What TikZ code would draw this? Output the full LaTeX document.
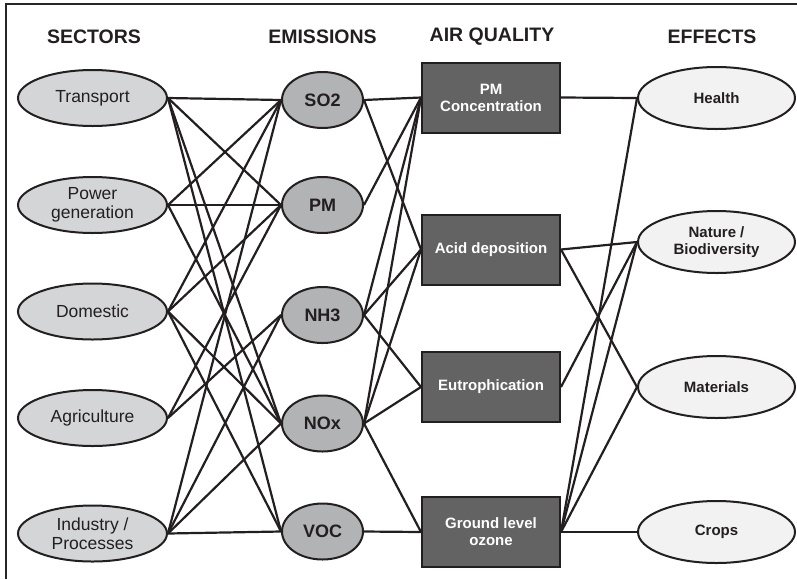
\documentclass[tikz,border=0pt]{standalone}
\usepackage{fontspec}
\setmainfont{Liberation Sans}
\usepackage{xcolor}
\usepackage{tikz}
\usetikzlibrary{shapes.geometric, calc}

\definecolor{sectorfill}{RGB}{212,213,215}
\definecolor{emisfill}{RGB}{178,179,181}
\definecolor{airfill}{RGB}{99,99,100}
\definecolor{effectfill}{RGB}{241,242,241}
\definecolor{outline}{RGB}{35,31,32}

\begin{document}
\begin{tikzpicture}[
  x=1pt, y=-1pt,
  header/.style={font=\fontsize{19.5}{22}\selectfont\bfseries, text=outline},
  sector/.style={ellipse, draw=outline, line width=2pt, fill=sectorfill, minimum width=149pt, minimum height=56pt, inner sep=0pt, align=center, font=\fontsize{17.5}{18.5}\selectfont, text=outline},
  emission/.style={ellipse, draw=outline, line width=2pt, fill=emisfill, minimum width=81pt, minimum height=56pt, inner sep=0pt, font=\fontsize{18}{19}\selectfont\bfseries, text=outline},
  airq/.style={rectangle, draw=outline, line width=2pt, fill=airfill, text=white, minimum width=138pt, minimum height=70pt, inner sep=0pt, align=center, font=\fontsize{15}{17}\selectfont\bfseries},
  effect/.style={ellipse, draw=outline, line width=2pt, fill=effectfill, minimum width=157pt, minimum height=62pt, inner sep=0pt, align=center, font=\fontsize{15}{17}\selectfont\bfseries, text=outline},
  link/.style={draw=outline, line width=2.2pt}
]
\useasboundingbox (0,0) rectangle (797,579);

% ---------------------------------------------------
% Column grid
% ---------------------------------------------------
\def\xSector{92.5}
\def\xEmis{322.5}
\def\xAir{491}
\def\xEffect{716.5}
\def\yHead{37}

% frame
\draw[line width=2.2pt, draw=black!85] (6,579) |- (797,4);

% ---------------------------------------------------
% 1. Column headers
% ---------------------------------------------------
\node[header] (h_sectors) at (94, \yHead) {SECTORS};
\node[header] (h_emis) at (\xEmis, \yHead) {EMISSIONS};
\node[header] (h_air) at (492, \yHead) {AIR QUALITY};
\node[header] (h_effects) at (712, \yHead) {EFFECTS};

% ---------------------------------------------------
% 2. Sectors
% ---------------------------------------------------
\node[sector] (transport) at (\xSector, 98) {Transport};
\node[sector] (power) at (\xSector, 205) {Power\\generation};
\node[sector] (domestic) at (\xSector, 311.5) {Domestic};
\node[sector] (agri) at (\xSector, 418) {Agriculture};
\node[sector] (industry) at (\xSector, 533.5) {Industry /\\Processes};

% ---------------------------------------------------
% 3. Emissions
% ---------------------------------------------------
\node[emission] (so2) at (\xEmis, 100) {SO2};
\node[emission] (pm) at (\xEmis, 205) {PM};
\node[emission] (nh3) at (\xEmis, 315) {NH3};
\node[emission] (nox) at (\xEmis, 423.5) {NOx};
\node[emission] (voc) at (\xEmis, 531.5) {VOC};

% ---------------------------------------------------
% 4. Air quality
% ---------------------------------------------------
\node[airq] (pmconc) at (\xAir, 97.5) {PM\\Concentration};
\node[airq] (acid) at (\xAir, 249.5) {Acid deposition};
\node[airq] (eutro) at (\xAir, 387) {Eutrophication};
\node[airq] (ozone) at (\xAir, 532) {Ground level\\ozone};

% ---------------------------------------------------
% 5. Effects
% ---------------------------------------------------
\node[effect] (health) at (\xEffect, 98) {Health};
\node[effect] (nature) at (\xEffect, 242) {Nature /\\Biodiversity};
\node[effect] (materials) at (\xEffect, 387) {Materials};
\node[effect] (crops) at (\xEffect, 532) {Crops};

% ---------------------------------------------------
% Draw Connections
% ---------------------------------------------------
\foreach \a/\b in {transport/so2, transport/pm, transport/nox, transport/voc,
                   power/so2, power/pm, power/nox,
                   domestic/so2, domestic/pm, domestic/nox, domestic/voc,
                   agri/pm, agri/nh3,
                   industry/so2, industry/nh3, industry/nox, industry/voc}
  \draw[link] (\a.east) -- (\b.west);

\foreach \a/\b in {so2/pmconc, so2/acid, pm/pmconc,
                   nh3/pmconc, nh3/acid, nh3/eutro,
                   nox/pmconc, nox/acid, nox/eutro, nox/ozone,
                   voc/ozone}
  \draw[link] (\a.east) -- (\b.west);

\foreach \a/\b in {pmconc/health, acid/nature, acid/materials, eutro/nature,
                   ozone/health, ozone/nature, ozone/materials, ozone/crops}
  \draw[link] (\a.east) -- (\b.west);

\end{tikzpicture}
\end{document}
